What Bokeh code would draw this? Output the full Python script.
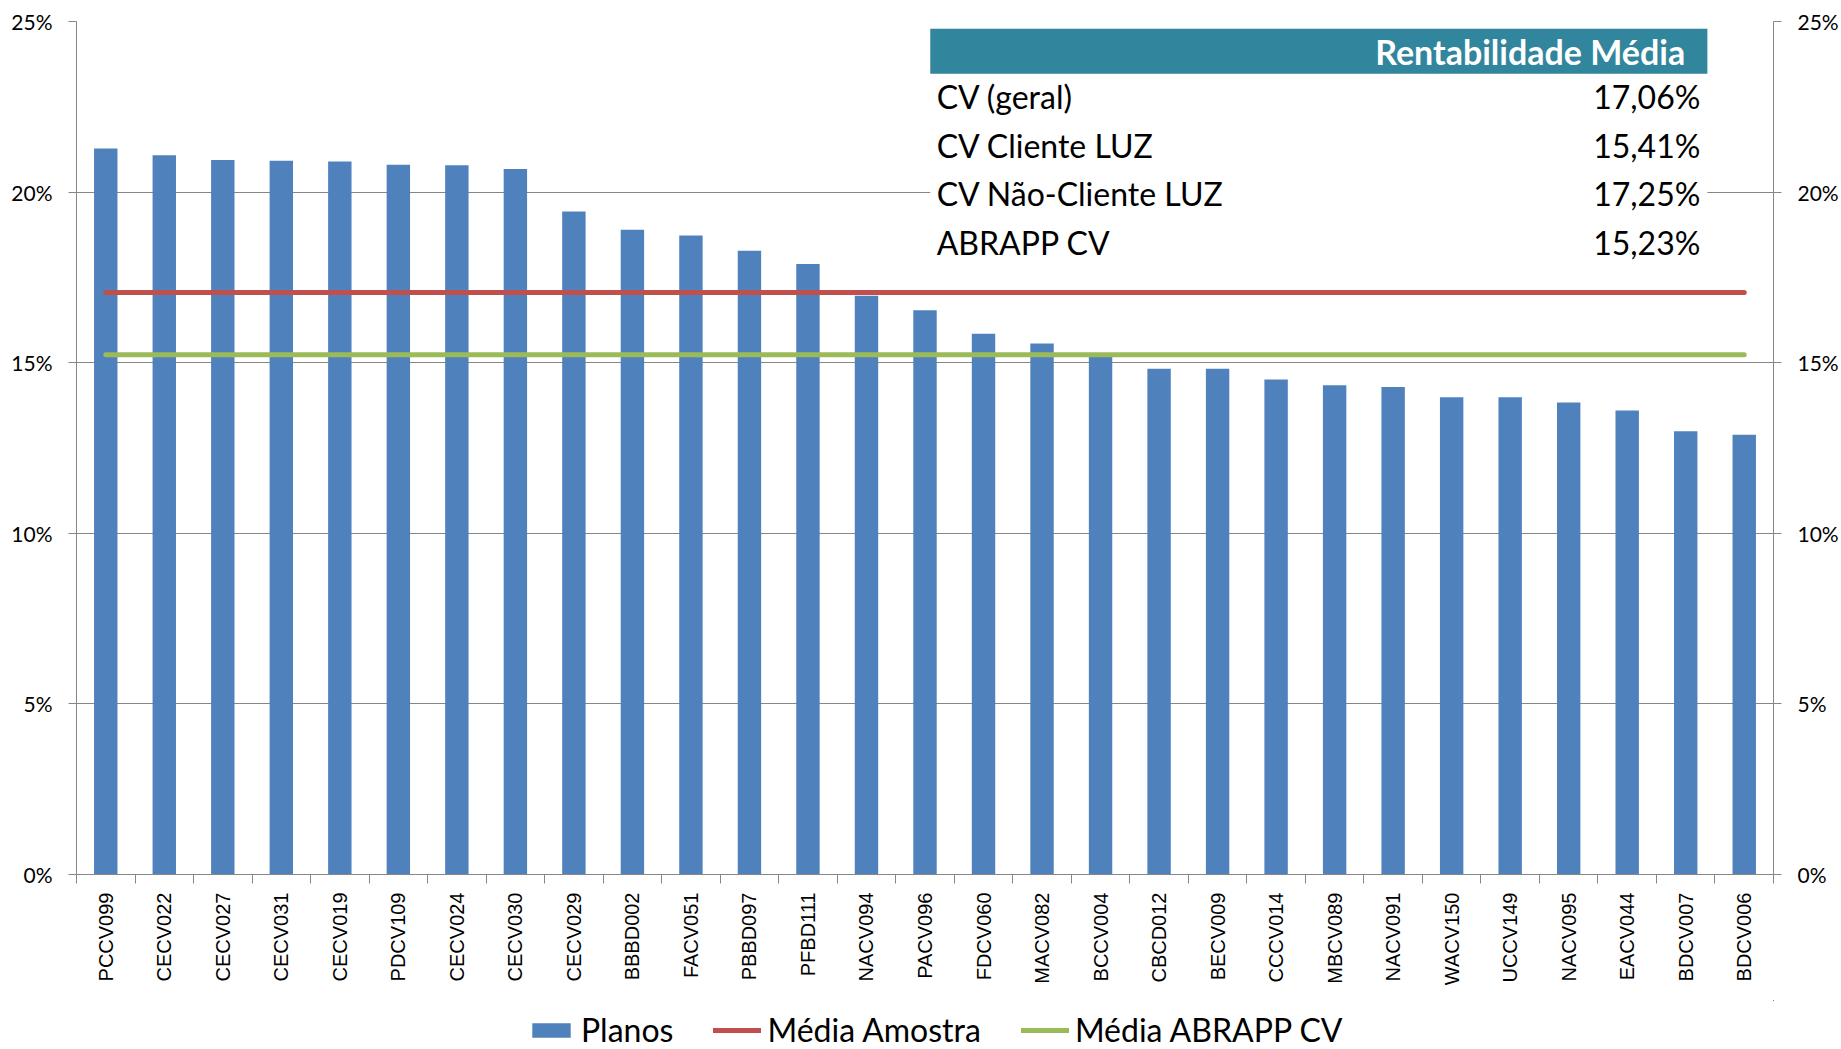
import math
from bokeh.plotting import figure
from bokeh.layouts import column
from bokeh.models import (Range1d, LinearAxis, FixedTicker, CustomJSTickFormatter,
                          PrintfTickFormatter, Legend, LegendItem, ColumnDataSource, Grid)
from bokeh.core.properties import value
from bokeh.embed import file_html
from bokeh.resources import INLINE

# ---------------- data ----------------
planos = ["PCCV099", "CECV022", "CECV027", "CECV031", "CECV019", "PDCV109", "CECV024",
          "CECV030", "CECV029", "BBBD002", "FACV051", "PBBD097", "PFBD111", "NACV094",
          "PACV096", "FDCV060", "MACV082", "BCCV004", "CBCD012", "BECV009", "CCCV014",
          "MBCV089", "NACV091", "WACV150", "UCCV149", "NACV095", "EACV044", "BDCV007",
          "BDCV006"]
rentabilidade = [21.28, 21.08, 20.94, 20.92, 20.90, 20.80, 20.79, 20.68, 19.43, 18.90,
                 18.73, 18.28, 17.89, 16.96, 16.54, 15.85, 15.56, 15.18, 14.82, 14.82,
                 14.51, 14.34, 14.29, 13.99, 13.99, 13.83, 13.60, 12.99, 12.89]
media_amostra = 17.06
media_abrapp = 15.23

tabela_titulo = "Rentabilidade Média"
tabela_rotulos = ["CV (geral)", "CV Cliente LUZ", "CV Não-Cliente LUZ", "ABRAPP CV"]
tabela_valores = [17.06, 15.41, 17.25, 15.23]

legenda = ["Planos", "Média Amostra", "Média ABRAPP CV"]

y_ticks = [0, 5, 10, 15, 20, 25]

# ---------------- styling ----------------
BLUE = "#4F81BD"
RED = "#C0504D"
GREEN = "#9BBB59"
TEAL = "#31859C"
GRAY = "#868686"
CAL = "Lato"
W = 1841
H_MAIN = 1000
H_LEG = 49

n = len(planos)
centers = [i + 0.5 for i in range(n)]
bounds = [float(i) for i in range(n + 1)]

p = figure(width=W, height=H_MAIN, x_range=Range1d(0, n), y_range=Range1d(0, 25),
           output_backend="svg", toolbar_location=None,
           x_axis_type=None, y_axis_type=None,
           min_border_left=76, min_border_right=68, min_border_top=21,
           min_border_bottom=H_MAIN - 874)
p.outline_line_color = None
p.background_fill_color = "white"

yticker = FixedTicker(ticks=y_ticks)
p.add_layout(Grid(dimension=1, ticker=yticker, grid_line_color=GRAY, grid_line_width=1))

def style_y(ax, standoff):
    ax.ticker = yticker
    ax.formatter = PrintfTickFormatter(format="%d%%")
    ax.axis_line_color = GRAY
    ax.major_tick_line_color = GRAY
    ax.major_tick_in = 0
    ax.major_tick_out = 8
    ax.minor_tick_line_color = None
    ax.minor_tick_out = 0
    ax.major_label_text_font = CAL
    ax.major_label_text_font_size = "21px"
    ax.major_label_text_color = "black"
    ax.major_label_standoff = standoff

yl = LinearAxis()
style_y(yl, 16)
p.add_layout(yl, "left")
yr = LinearAxis()
style_y(yr, 16)
p.add_layout(yr, "right")

xa = LinearAxis(ticker=FixedTicker(ticks=centers, minor_ticks=bounds),
                formatter=CustomJSTickFormatter(args=dict(names=planos),
                                                code="var i = Math.round(tick - 0.5); return names[i] || '';"))
xa.axis_line_color = GRAY
xa.major_tick_in = 0
xa.major_tick_out = 0
xa.major_tick_line_color = None
xa.minor_tick_in = 0
xa.minor_tick_out = 9
xa.minor_tick_line_color = GRAY
xa.major_label_orientation = math.pi / 2
xa.major_label_standoff = 9
xa.major_label_text_font = "Liberation Sans"
xa.major_label_text_font_size = "20px"
xa.major_label_text_color = "black"
p.add_layout(xa, "below")

# bars
src = ColumnDataSource(dict(x=centers, top=rentabilidade, nome=planos))
p.vbar(x="x", top="top", width=0.40, bottom=0, source=src,
       fill_color=BLUE, line_color=None)

# average lines
p.line([centers[0], centers[-1]], [media_amostra, media_amostra],
       line_color=RED, line_width=5, line_cap="round")
p.line([centers[0], centers[-1]], [media_abrapp, media_abrapp],
       line_color=GREEN, line_width=5, line_cap="round")

# summary table overlay
tab_left, tab_right = 14.59, 27.87
head_top, head_bottom = 24.79, 23.47
tab_bottom = 17.76
row_step = (head_bottom - tab_bottom) / len(tabela_rotulos)

p.quad(left=[tab_left], right=[tab_right], top=[head_bottom], bottom=[tab_bottom],
       fill_color="white", line_color=None)
p.quad(left=[tab_left], right=[tab_right], top=[head_top], bottom=[head_bottom],
       fill_color=TEAL, line_color=None)
p.text(x=[27.49], y=[(head_top + head_bottom) / 2], text=[tabela_titulo],
       text_font=value(CAL), text_font_size=value("34px"), text_font_style="bold",
       text_color="white", text_align="right", text_baseline="middle")

row_y = [head_bottom - row_step * (i + 0.5) + 0.05 for i in range(len(tabela_rotulos))]
val_txt = [f"{v:.2f}%".replace(".", ",") for v in tabela_valores]
tsrc = ColumnDataSource(dict(y=row_y, lab=tabela_rotulos, val=val_txt,
                             xl=[14.70] * len(row_y), xr=[27.75] * len(row_y)))
p.text(x="xl", y="y", text="lab", source=tsrc, text_font=value(CAL),
       text_font_size=value("32px"), text_color="black",
       text_align="left", text_baseline="middle")
p.text(x="xr", y="y", text="val", source=tsrc, text_font=value(CAL),
       text_font_size=value("32px"), text_color="black",
       text_align="right", text_baseline="middle")

# ---------------- legend strip below the chart ----------------
# proxy renderers carry the same series; the strip's ranges keep them out of view
q = figure(width=W, height=H_LEG, x_range=Range1d(-2, -1), y_range=Range1d(-2, -1),
           output_backend="svg", toolbar_location=None,
           x_axis_type=None, y_axis_type=None, min_border=0)
q.outline_line_color = None
q.xgrid.visible = False
q.ygrid.visible = False
r_bar = q.vbar(x=centers, top=rentabilidade, width=0.4, fill_color=BLUE, line_color=None)
r_red = q.line(x=[centers[0], centers[-1]], y=[media_amostra, media_amostra],
               line_color=RED, line_width=5, line_cap="round")
r_green = q.line(x=[centers[0], centers[-1]], y=[media_abrapp, media_abrapp],
                 line_color=GREEN, line_width=5, line_cap="round")

legend = Legend(items=[LegendItem(label=legenda[0], renderers=[r_bar]),
                       LegendItem(label=legenda[1], renderers=[r_red]),
                       LegendItem(label=legenda[2], renderers=[r_green])],
                orientation="horizontal", location=(451, 0))
legend.margin = 0
legend.padding = 0
legend.spacing = 40
legend.label_standoff = 6
legend.glyph_width = 48
legend.glyph_height = 18
legend.label_text_font = CAL
legend.label_text_font_size = "32px"
legend.label_text_color = "black"
legend.border_line_color = None
legend.background_fill_alpha = 0
q.add_layout(legend)

layout = column(p, q, spacing=0)
open("out.html", "w").write(file_html(layout, INLINE))
